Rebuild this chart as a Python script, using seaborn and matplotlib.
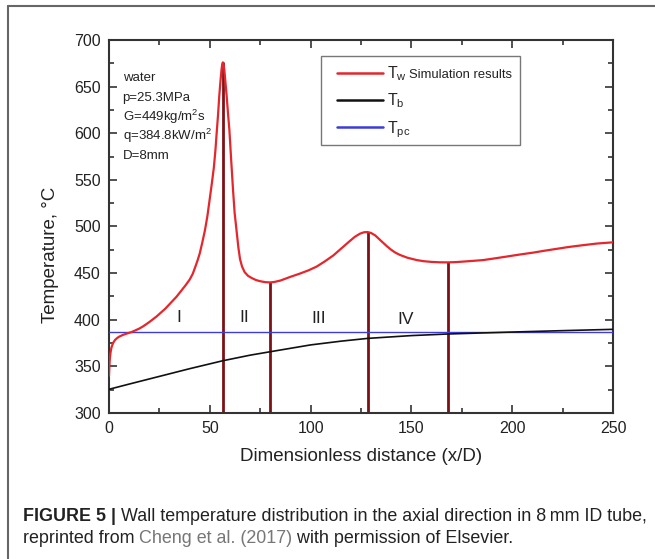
import matplotlib
matplotlib.use("Agg")
import matplotlib.pyplot as plt
from matplotlib.lines import Line2D
from matplotlib.patches import Rectangle
from matplotlib.ticker import MultipleLocator
import seaborn as sns

# wall temperature T_w
tw_x = [0, 0.3, 0.7, 1.2, 2, 3, 4, 5, 7, 9, 11.2, 13, 15, 17, 20, 23.6, 28,
        33.5, 38, 40, 41.5, 42.7, 44, 45, 46.3, 47.6, 48.8, 50, 51, 52, 52.8,
        53.4, 54.1, 54.7, 55.3, 55.8, 56.2, 56.5, 56.8, 57.2, 57.7, 58.4, 59,
        59.7, 60.5, 61.5, 62.3, 63.3, 64.2, 65, 66, 67.3, 69, 71, 73, 75,
        77.5, 79.9, 82, 85, 90, 94.7, 99, 103, 107, 111.3, 115, 119.5, 122,
        124.5, 126.5, 128.3, 130, 132, 134, 136, 138, 140, 142, 144.3, 148,
        152.6, 156, 160, 164, 168, 172, 176, 181, 185.7, 192, 198, 204, 210.5,
        216, 222, 228, 235.3, 242, 250]
tw_t = [340, 355, 364, 370, 375, 378.3, 380.3, 381.8, 383.8, 385.3, 386.8,
        388.5, 390.5, 393, 397.5, 403.5, 412, 424.7, 437, 443, 449, 456, 464,
        471, 483, 496, 511, 530, 546, 563, 582, 600, 620, 640, 656, 668,
        674.5, 676, 674, 668, 656, 639, 622, 604, 575, 540, 515, 495, 477,
        465, 457, 451, 447, 444.5, 442.5, 441.3, 440.3, 440, 440.5, 442, 446,
        449.5, 453, 457, 462.5, 469, 476, 484.5, 489, 492.3, 493.8, 494, 493,
        490.5, 486.5, 482.5, 478.5, 475, 472, 469.5, 466.5, 464, 462.8, 462,
        461.6, 461.5, 461.8, 462.4, 463.2, 464, 466, 468, 470, 472, 474, 476,
        478, 480, 481.7, 483]

# bulk temperature T_b
tb_x = [0, 10, 20, 30, 40, 56.4, 70, 80, 100, 115, 128.3, 150, 168, 200, 225, 250]
tb_t = [325.4, 331, 336.5, 342, 347.5, 356, 362, 365.7, 373, 377, 380, 383,
        384.7, 386.8, 388.3, 389.7]

# pseudo-critical temperature T_pc
tpc_x = [0, 250]
tpc_t = [386.5, 386.5]

# region boundaries (x/D) and where they meet the T_w curve
bound_x = [56.4, 79.9, 128.3, 168.0]
bound_top = [676, 440, 494, 461.5]

region_labels = ["I", "II", "III", "IV"]
region_x = [34.4, 67.0, 103.9, 147.3]
region_y = [402, 402, 401.5, 400.5]

cond_lines = ["water", "p=25.3MPa", "G=449kg/m$^2$s", "q=384.8kW/m$^2$", "D=8mm"]

x_ticks = [0, 50, 100, 150, 200, 250]
y_ticks = [300, 350, 400, 450, 500, 550, 600, 650, 700]

sns.set_theme(style="ticks")
plt.rcParams["font.family"] = ["Liberation Sans", "DejaVu Sans"]
plt.rcParams["mathtext.default"] = "regular"

fig = plt.figure(figsize=(6.55, 5.59), dpi=100)
ax = fig.add_axes([0.1664, 0.2612, 0.7695, 0.6673])

red = "#e5262c"
ax.vlines(bound_x, 300, bound_top, color="#7d1216", lw=2.0, zorder=2)
sns.lineplot(x=tpc_x, y=tpc_t, ax=ax, color="#3c3cdc", lw=1.0, zorder=3)
sns.lineplot(x=tb_x, y=tb_t, ax=ax, color="#111111", lw=1.2, zorder=3)
sns.lineplot(x=tw_x, y=tw_t, ax=ax, color=red, lw=1.6, zorder=4)

ax.set_xlim(0, 250)
ax.set_ylim(300, 700)
ax.set_xticks(x_ticks)
ax.set_yticks(y_ticks)
ax.xaxis.set_minor_locator(MultipleLocator(25))
ax.yaxis.set_minor_locator(MultipleLocator(25))
ax.tick_params(which="both", direction="in", top=True, right=True,
               colors="#333333", width=1.2, labelsize=11.5, labelcolor="#222222")
ax.tick_params(which="major", length=5.5, pad=6)
ax.tick_params(which="minor", length=3.5)
for sp in ax.spines.values():
    sp.set_color("#333333")
    sp.set_linewidth(1.5)

ax.set_xlabel("Dimensionless distance (x/D)", fontsize=13.5, color="#222222")
ax.set_ylabel("Temperature, °C", fontsize=13.5, color="#222222")
ax.xaxis.set_label_coords(0.5, -0.095)
ax.yaxis.set_label_coords(-0.099, 0.424)

for lab, lx, ly in zip(region_labels, region_x, region_y):
    ax.text(lx, ly, lab, fontsize=12.5, ha="center", va="center", color="#222222")

cond_y = [0.898, 0.845, 0.794, 0.743, 0.689]
for line, cy in zip(cond_lines, cond_y):
    ax.text(0.027, cy, line, transform=ax.transAxes, fontsize=9.5,
            ha="left", va="center", color="#222222")

# legend: frame drawn separately so the padding can match the original
handles = [Line2D([], [], color=red, lw=1.8),
           Line2D([], [], color="#111111", lw=1.8),
           Line2D([], [], color="#3c3cdc", lw=1.8)]
labels = ["T$_w$", "T$_b$", "T$_{pc}$"]
leg = ax.legend(handles, labels, loc="upper left", bbox_to_anchor=(0.452, 0.935),
                frameon=False, fontsize=11.5, handlelength=2.9, handletextpad=0.25,
                labelspacing=0.55, borderpad=0, borderaxespad=0)
leg.set_zorder(5)
# drawn after the legend so the position of its first label is known
ax.annotate("Simulation results", xy=(1, 0), xycoords=leg.get_texts()[0],
            xytext=(1.5, 1.2), textcoords="offset points", va="bottom", ha="left",
            fontsize=9.4, color="#222222", zorder=7)
ax.add_patch(Rectangle((0.421, 0.718), 0.394, 0.239, transform=ax.transAxes,
                       fill=False, edgecolor="#777777", lw=1.0, zorder=5))

# outer frame of the figure panel
fig.add_artist(Line2D([7.5 / 655, 7.5 / 655], [0, 1 - 6 / 559], color="#666666", lw=1.5))
fig.add_artist(Line2D([7.5 / 655, 1], [1 - 6 / 559, 1 - 6 / 559], color="#666666", lw=1.5))

# caption, built from pieces so the bold and grey parts line up
cap_size = 12.9


def caption_line(parts, y):
    prev = None
    for txt, weight, col in parts:
        if prev is None:
            prev = ax.annotate(txt, xy=(22.7 / 655, y), xycoords="figure fraction",
                               va="baseline", ha="left", fontsize=cap_size,
                               weight=weight, color=col, annotation_clip=False)
        else:
            prev = ax.annotate(txt, xy=(1, 0), xycoords=prev, va="bottom",
                               ha="left", fontsize=cap_size,
                               weight=weight, color=col, annotation_clip=False)


caption_line([("FIGURE 5 |", "bold", "#222222"),
              (" Wall temperature distribution in the axial direction in 8\u2009mm ID tube,",
               "normal", "#222222")], 1 - 520.7 / 559)
caption_line([("reprinted from ", "normal", "#222222"),
              ("Cheng et al. (2017)", "normal", "#777777"),
              (" with permission of Elsevier.", "normal", "#222222")], 1 - 543.3 / 559)

fig.savefig("out.png", dpi=100)
